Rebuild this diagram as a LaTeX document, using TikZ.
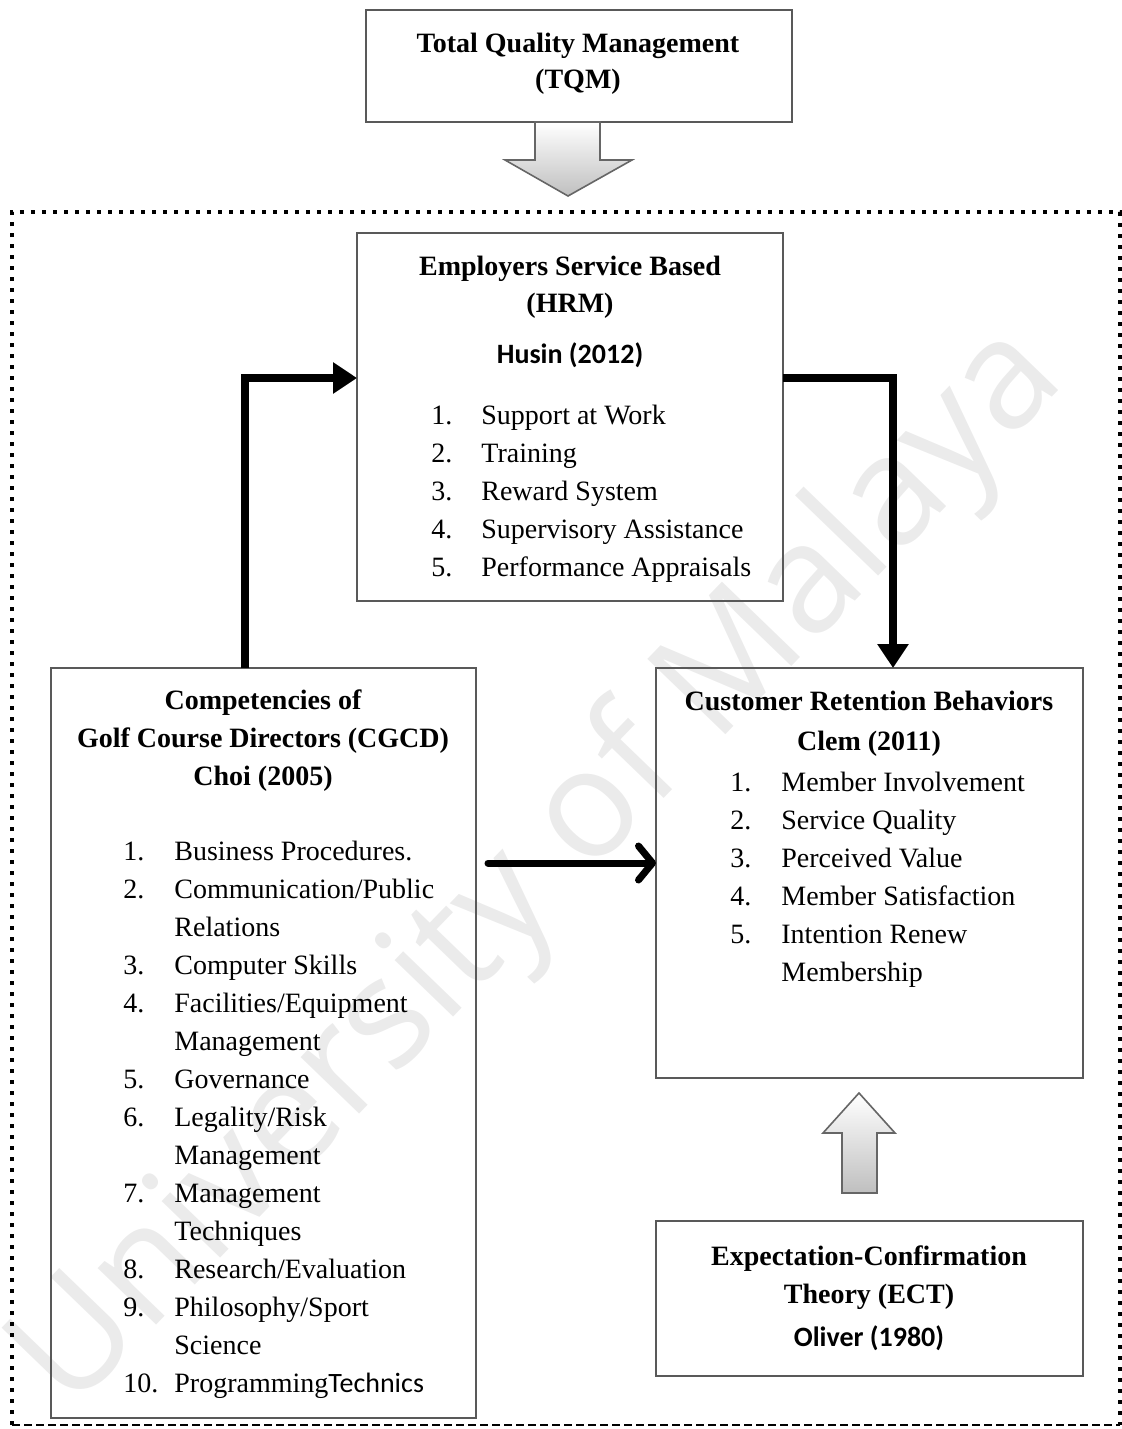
\documentclass[tikz,border=0pt]{standalone}
\usepackage{fontspec}
\setmainfont{Liberation Serif}
\newfontfamily\calibri{Carlito}
\newfontfamily\wmfont{Open Sans}
\usepackage{tikz}
\usetikzlibrary{arrows.meta}
\usetikzlibrary{calc}

\tikzset{
  box/.style={draw=black!65, line width=0.8pt, inner sep=0pt, outer sep=0pt},
  title/.style={anchor=base, inner sep=0pt, font=\fontsize{14}{18.5}\selectfont\bfseries},
  author/.style={anchor=base, inner sep=0pt, font=\calibri\fontsize{14}{17}\selectfont\bfseries},
  items/.style={anchor=base west, inner sep=0pt, font=\fontsize{14}{19}\selectfont},
  elbow/.style={line width=4pt, -{Triangle[length=12pt,width=15pt]}},
  flow/.style={line width=3.5pt, line cap=round, -{Straight Barb[length=7pt,width=17pt,round]}},
  bigarrow/.style={draw=black!60, line width=0.8pt, top color=white, bottom color=black!25},
  frame/.style={line width=2pt, dash pattern=on 2pt off 3.5pt},
}

\begin{document}
\begin{tikzpicture}[x=0.5pt,y=-0.5pt]
    \useasboundingbox (0,0) rectangle (1122,1429);

    % Filigrane
    \node[rotate=46, text=black!8, font=\wmfont\fontsize{76}{76}\selectfont] (mark) at (540,870) {University of Malaya};

    % Cadre pointille
    \draw[frame] (12,1425) -- (12,212) -- (1120,212) -- (1120,1425);
    \draw[line width=1pt, dash pattern=on 4pt off 2pt] (12,1425) -- (1120,1425);

    % Boites
    \node[box, minimum width=213pt, minimum height=56pt] (tqm) at (579,66) {};
    \node[box, minimum width=213pt, minimum height=184pt] (hrm) at (570,417) {};
    \node[box, minimum width=212.5pt, minimum height=375pt] (cgcd) at (263.5,1043) {};
    \node[box, minimum width=213.5pt, minimum height=205pt] (crb) at (869.5,873) {};
    \node[box, minimum width=213.5pt, minimum height=77.5pt] (ect) at (869.5,1298.5) {};

    % Titres
    \node[title, font=\fontsize{14}{18}\selectfont\bfseries] (tqmtitle) at (578,53)
      {\begin{tabular}[t]{@{}c@{}}Total Quality Management\\(TQM)\end{tabular}};
    \node[title] (hrmtitle) at (570,275)
      {\begin{tabular}[t]{@{}c@{}}Employers Service Based\\(HRM)\end{tabular}};
    \node[author] (husin) at (570,363) {Husin (2012)};
    \node[title, font=\fontsize{14}{19.2}\selectfont\bfseries] (cgcdtitle) at (263,709)
      {\begin{tabular}[t]{@{}c@{}}Competencies of\\Golf Course Directors (CGCD)\\Choi (2005)\end{tabular}};
    \node[title, font=\fontsize{14}{20}\selectfont\bfseries] (crbtitle) at (869,710)
      {\begin{tabular}[t]{@{}c@{}}Customer Retention Behaviors\\Clem (2011)\end{tabular}};
    \node[title, font=\fontsize{14}{19}\selectfont\bfseries] (ecttitle) at (869,1265)
      {\begin{tabular}[t]{@{}c@{}}Expectation-Confirmation\\Theory (ECT)\end{tabular}};
    \node[author] (oliver) at (869,1346) {Oliver (1980)};

    % Listes
    \node[items] (hrmlist) at (431,424) {\begin{tabular}[t]{@{}p{25pt}@{}l@{}}
      1. & Support at Work\\
      2. & Training\\
      3. & Reward System\\
      4. & Supervisory Assistance\\
      5. & Performance Appraisals
    \end{tabular}};
    \node[items] (cgcdlist) at (123,860) {\begin{tabular}[t]{@{}p{25.5pt}@{}l@{}}
      1. & Business Procedures.\\
      2. & Communication/Public\\
         & Relations\\
      3. & Computer Skills\\
      4. & Facilities/Equipment\\
         & Management\\
      5. & Governance\\
      6. & Legality/Risk\\
         & Management\\
      7. & Management\\
         & Techniques\\
      8. & Research/Evaluation\\
      9. & Philosophy/Sport\\
         & Science\\
      10. & Programming{\calibri Technics}
    \end{tabular}};
    \node[items] (crblist) at (730,791) {\begin{tabular}[t]{@{}p{25.5pt}@{}l@{}}
      1. & Member Involvement\\
      2. & Service Quality\\
      3. & Perceived Value\\
      4. & Member Satisfaction\\
      5. & Intention Renew\\
         & Membership
    \end{tabular}};

    % Grosses fleches
    \draw[bigarrow] (535,122) -- (600,122) -- (600,160) -- (632,160) -- (568,196)
      -- (505,160) -- (535,160) -- cycle;
    \draw[bigarrow] (842,1193) -- (877,1193) -- (877,1133) -- (895,1133) -- (859,1093)
      -- (823,1133) -- (842,1133) -- cycle;

    % Liaisons
    \draw[elbow] ([xshift=-9.25pt]cgcd.north) |- ([yshift=19.5pt]hrm.west);
    \draw[elbow] ([yshift=19.5pt]hrm.east) -| ([xshift=11.75pt]crb.north);
    \draw[flow] ($(cgcd.east |- crb.west)+(12,-10)$) -- ($(crb.west)+(0,-10)$);
\end{tikzpicture}
\end{document}
